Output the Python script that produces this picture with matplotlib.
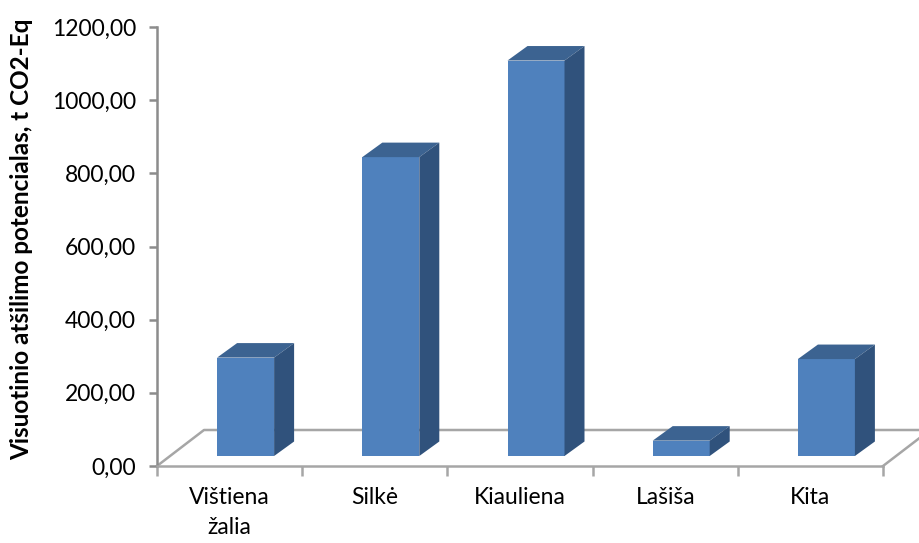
import matplotlib
matplotlib.use("Agg")
import matplotlib.pyplot as plt
from matplotlib.patches import Polygon
from matplotlib.ticker import FuncFormatter, FixedLocator

plt.rcParams['font.family'] = ['Lato', 'DejaVu Sans']

categories = ["Vištiena\nžalia", "Silkė", "Kiauliena", "Lašiša", "Kita"]
values = [269, 817, 1081, 42, 265]
y_ticks = [0, 200, 400, 600, 800, 1000, 1200]
y_label = "Visuotinio atšilimo potencialas, t CO2-Eq"

front_col = "#4F81BD"
top_col = "#3C6391"
side_col = "#30527C"
axis_col = "#8C8C8C"
floor_col = "#A6A6A6"

W, H = 920, 543
fig = plt.figure(figsize=(W / 100, H / 100), dpi=100)
ax = fig.add_axes([157 / W, (H - 466) / H, 726 / W, 439 / H])
ax.set_xlim(0, len(categories))
ax.set_ylim(0, 1200)

# pixel -> data conversions for the oblique depth offsets
px_x = len(categories) / 726.0
px_y = 1200 / 439.0
floor_dx, floor_dy = 47 * px_x, 36 * px_y
bar_shift, bar_base = 16 * px_x, 10 * px_y
bar_w = 57 * px_x
depth_dx, depth_dy = 20 * px_x, 14.5 * px_y

# floor parallelogram (back and side edges)
n = len(categories)
floor = [(0, 0), (floor_dx, floor_dy), (n + floor_dx, floor_dy), (n, 0)]
ax.add_line(plt.Line2D([p[0] for p in floor], [p[1] for p in floor],
                       color=floor_col, lw=1.8, clip_on=False, zorder=1))

# 3D columns: front face via ax.bar, top and side faces as polygons
centers = [i + 0.5 + bar_shift for i in range(n)]
ax.bar(centers, values, width=bar_w, bottom=bar_base, color=front_col,
       edgecolor="none", zorder=3)
for c, v in zip(centers, values):
    x0, x1 = c - bar_w / 2, c + bar_w / 2
    y0, y1 = bar_base, bar_base + v
    top = Polygon([(x0, y1), (x1, y1), (x1 + depth_dx, y1 + depth_dy),
                   (x0 + depth_dx, y1 + depth_dy)], closed=True,
                  facecolor=top_col, edgecolor="none", zorder=3, clip_on=False)
    side = Polygon([(x1, y0), (x1 + depth_dx, y0 + depth_dy),
                    (x1 + depth_dx, y1 + depth_dy), (x1, y1)], closed=True,
                   facecolor=side_col, edgecolor="none", zorder=3, clip_on=False)
    ax.add_patch(top)
    ax.add_patch(side)

# axes styling
for s in ["top", "right"]:
    ax.spines[s].set_visible(False)
ax.spines["left"].set_color(axis_col)
ax.spines["left"].set_linewidth(1.8)
ax.spines["bottom"].set_color(floor_col)
ax.spines["bottom"].set_linewidth(1.8)

ax.yaxis.set_major_locator(FixedLocator(y_ticks))
ax.yaxis.set_major_formatter(FuncFormatter(lambda v, p: f"{v:.2f}".replace(".", ",")))
ax.tick_params(axis="y", direction="out", length=6, width=1.8, color=axis_col,
               pad=9, labelsize=16.5, labelcolor="black")

ax.set_xticks(range(n + 1))
ax.set_xticklabels([])
ax.set_xticks([i + 0.5 for i in range(n)], minor=True)
ax.set_xticklabels(categories, minor=True, fontsize=16.5, linespacing=1.55)
ax.tick_params(axis="x", which="minor", length=0, pad=15)
ax.tick_params(axis="x", which="major", direction="out", length=7, width=1.8,
               color=floor_col)

fig.text(22 / W, 1 - 239 / H, y_label, rotation=90, ha="center", va="center",
         fontsize=17.5, fontweight="bold")

fig.savefig("out.png", dpi=100)
